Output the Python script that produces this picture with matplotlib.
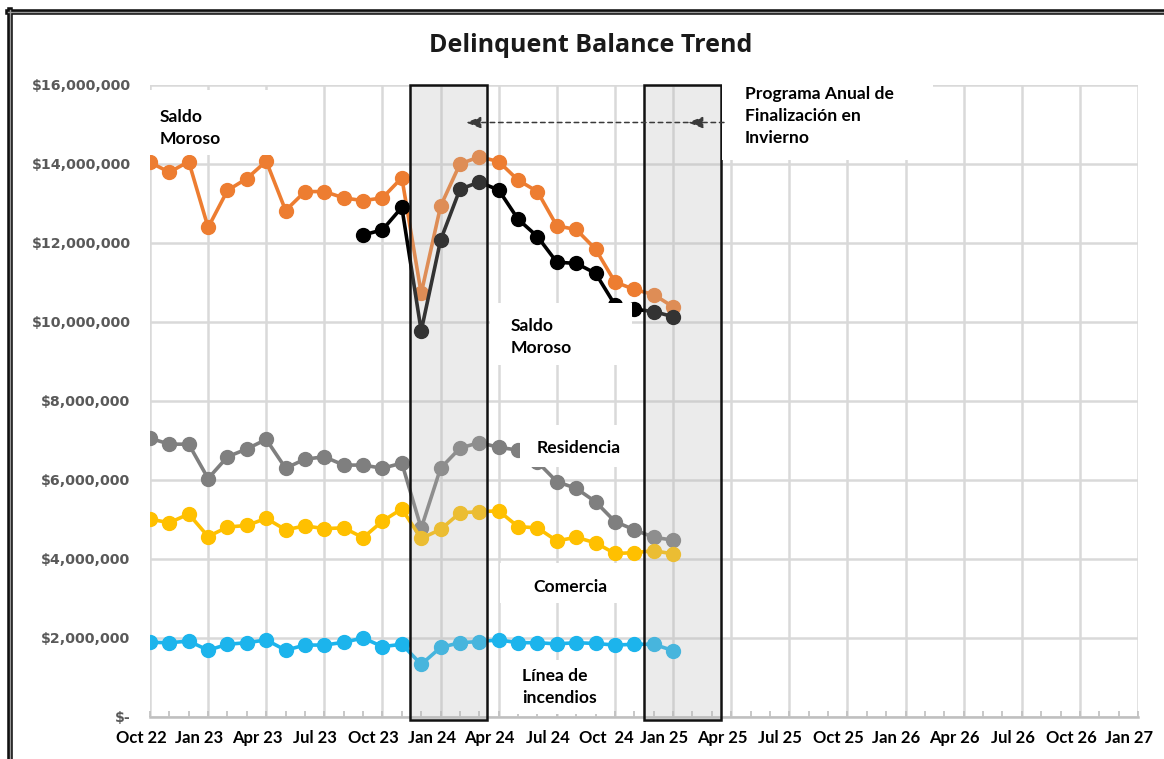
import numpy as np
import matplotlib
matplotlib.use("Agg")
import matplotlib.pyplot as plt
from matplotlib.patches import Rectangle
from matplotlib.lines import Line2D
from matplotlib.ticker import FuncFormatter, MultipleLocator
import matplotlib.transforms as mtransforms

# ---------------- data (values in millions of dollars) ----------------
saldo_moroso = [14.04, 13.79, 14.06, 12.39, 13.33, 13.63, 14.07, 12.82, 13.30, 13.30,
                13.14, 13.07, 13.14, 13.65, 10.72, 12.93, 14.00, 14.18, 14.06, 13.59,
                13.30, 12.43, 12.34, 11.84, 11.01, 10.82, 10.69, 10.38]
saldo_moroso_2 = [np.nan] * 11 + [12.20, 12.33, 12.90, 9.77, 12.07, 13.36, 13.54, 13.34,
                                  12.60, 12.16, 11.51, 11.48, 11.23, 10.43, 10.32, 10.26, 10.13]
residencia = [7.05, 6.90, 6.90, 6.03, 6.58, 6.78, 7.02, 6.29, 6.52, 6.58,
              6.37, 6.37, 6.29, 6.42, 4.77, 6.29, 6.80, 6.94, 6.82, 6.75,
              6.45, 5.95, 5.78, 5.44, 4.94, 4.73, 4.54, 4.47]
comercia = [5.00, 4.91, 5.13, 4.56, 4.80, 4.84, 5.02, 4.73, 4.83, 4.76,
            4.78, 4.53, 4.95, 5.26, 4.51, 4.74, 5.16, 5.19, 5.21, 4.81,
            4.78, 4.45, 4.54, 4.40, 4.13, 4.15, 4.20, 4.12]
incendios = [1.88, 1.87, 1.91, 1.68, 1.83, 1.87, 1.94, 1.68, 1.81, 1.81,
             1.88, 1.99, 1.77, 1.83, 1.32, 1.75, 1.87, 1.90, 1.94, 1.87,
             1.87, 1.84, 1.87, 1.85, 1.81, 1.83, 1.83, 1.67]
tick_labels = ["Oct 22", "Jan 23", "Apr 23", "Jul 23", "Oct 23", "Jan 24", "Apr 24",
               "Jul 24", "Oct  24", "Jan 25", "Apr 25", "Jul 25", "Oct 25", "Jan 26",
               "Apr 26", "Jul 26", "Oct 26", "Jan 27"]
# winter programme windows (month index, start/end)
programa_windows = [(13.4, 17.37), (25.5, 29.45)]

# ---------------- figure ----------------
W, H = 1164, 759
fig = plt.figure(figsize=(W / 100, H / 100), dpi=100)
fig.patch.set_facecolor("white")
ax = fig.add_axes([150 / W, (H - 716.5) / H, (1138 - 150) / W, (716.5 - 85) / H])

FONT = "Lato"
months_per_tick = 3
n_months = (len(tick_labels) - 1) * months_per_tick
x = np.arange(len(saldo_moroso))

ax.set_xlim(0, n_months)
ax.set_ylim(0, 16)
ax.xaxis.set_minor_locator(MultipleLocator(1))
ax.set_xticks(np.arange(0, n_months + 1, months_per_tick))
ax.set_xticklabels(tick_labels)
ax.yaxis.set_major_locator(MultipleLocator(2))
ax.yaxis.set_major_formatter(FuncFormatter(
    lambda v, p: "$-" if abs(v) < 1e-9 else f"${v * 1e6:,.0f}"))

ax.grid(True, which="major", color="#d9d9d9", linewidth=1.8, zorder=0.5)
ax.set_axisbelow(True)
for s in ["top", "right", "left"]:
    ax.spines[s].set_visible(False)
ax.spines["bottom"].set_color("#bfbfbf")
ax.spines["bottom"].set_linewidth(1.8)
ax.tick_params(axis="x", which="both", direction="in", length=4, color="#bfbfbf", width=1.2)
ax.tick_params(axis="x", which="major", pad=10)
ax.tick_params(axis="y", length=0, pad=14)
for lab in ax.get_xticklabels():
    lab.set_fontfamily(FONT); lab.set_fontweight("bold"); lab.set_fontsize(12)
    lab.set_transform(lab.get_transform() + mtransforms.ScaledTranslation(-9 / 100, 0, fig.dpi_scale_trans))
for lab in ax.get_yticklabels():
    lab.set_fontfamily("DejaVu Sans"); lab.set_fontweight("bold"); lab.set_fontsize(10.2)
    lab.set_color("#595959")

# ---------------- series ----------------
kw = dict(linewidth=2.6, marker="o", markersize=10, zorder=2)
ax.plot(x, saldo_moroso, color="#ED7D31", **kw)
ax.plot(x, saldo_moroso_2, color="#000000", **kw)
ax.plot(x, residencia, color="#7F7F7F", **kw)
ax.plot(x, comercia, color="#FFC000", **kw)
ax.plot(x, incendios, color="#1CB4EC", **kw)

# ---------------- programme windows (translucent overlay) ----------------
for x0, x1 in programa_windows:
    ax.add_patch(Rectangle((x0, -0.09), x1 - x0, 16.09, facecolor="#b8b8b8", alpha=0.28,
                           edgecolor="none", zorder=3, clip_on=False))
    ax.add_patch(Rectangle((x0, -0.09), x1 - x0, 16.09, facecolor="none",
                           edgecolor="#111111", linewidth=1.8, zorder=3.2, clip_on=False))

# ---------------- white label masks ----------------
def px_x(p):
    return (p - 150) / ((1138 - 150) / n_months)

def px_y(p):
    return (716.5 - p) / ((716.5 - 85) / 16)

masks = [(148, 272, 90, 155), (490, 632, 303, 365), (520, 630, 425, 467),
         (500, 630, 563, 603), (505, 612, 660, 714), (722, 933, 70, 160)]
for l, r, t, b in masks:
    ax.add_patch(Rectangle((px_x(l), px_y(b)), px_x(r) - px_x(l), px_y(t) - px_y(b),
                           facecolor="white", edgecolor="none", zorder=4, clip_on=False))

tkw = dict(fontfamily=FONT, fontweight="bold", fontsize=12.6, color="black",
           ha="left", va="center", zorder=5, linespacing=1.45)
ax.text(px_x(160), px_y(128), "Saldo\nMoroso", **tkw)
ax.text(px_x(511), px_y(337), "Saldo\nMoroso", **tkw)
ax.text(px_x(537), px_y(448), "Residencia", **tkw)
ax.text(px_x(533), px_y(587), "Comercia", **tkw)
ax.text(px_x(522), px_y(687), "Línea de\nincendios", **tkw)
ax.text(px_x(745), px_y(116), "Programa Anual de\nFinalización en\nInvierno", **tkw)

# dashed arrow
ay = px_y(122.5)
akw = dict(arrowstyle="-|>,head_length=0.9,head_width=0.35", linestyle=(0, (3, 2.5)),
           color="#3a3a3a", lw=1.1, shrinkA=0, shrinkB=0)
ax.annotate("", xy=(px_x(688), ay), xytext=(px_x(724), ay), arrowprops=akw,
            zorder=5, annotation_clip=False)
ax.annotate("", xy=(px_x(466), ay), xytext=(px_x(688), ay), arrowprops=akw,
            zorder=5, annotation_clip=False)

# title
fig.text(591 / W, 1 - 46 / H, "Delinquent Balance Trend", ha="center", va="center",
         fontfamily="Open Sans", fontweight="bold", fontsize=18, color="#1a1a1a")

# outer frame (cropped on right/bottom)
for lw, c in [(4.0, "#111111"), (1.0, "#9a9a9a")]:
    fig.add_artist(Line2D([8 / W, 1], [1 - 12 / H, 1 - 12 / H], color=c, linewidth=lw,
                          transform=fig.transFigure))
    fig.add_artist(Line2D([10 / W, 10 / W], [0, 1 - 10 / H], color=c, linewidth=lw,
                          transform=fig.transFigure))

fig.savefig("out.png", dpi=100)
